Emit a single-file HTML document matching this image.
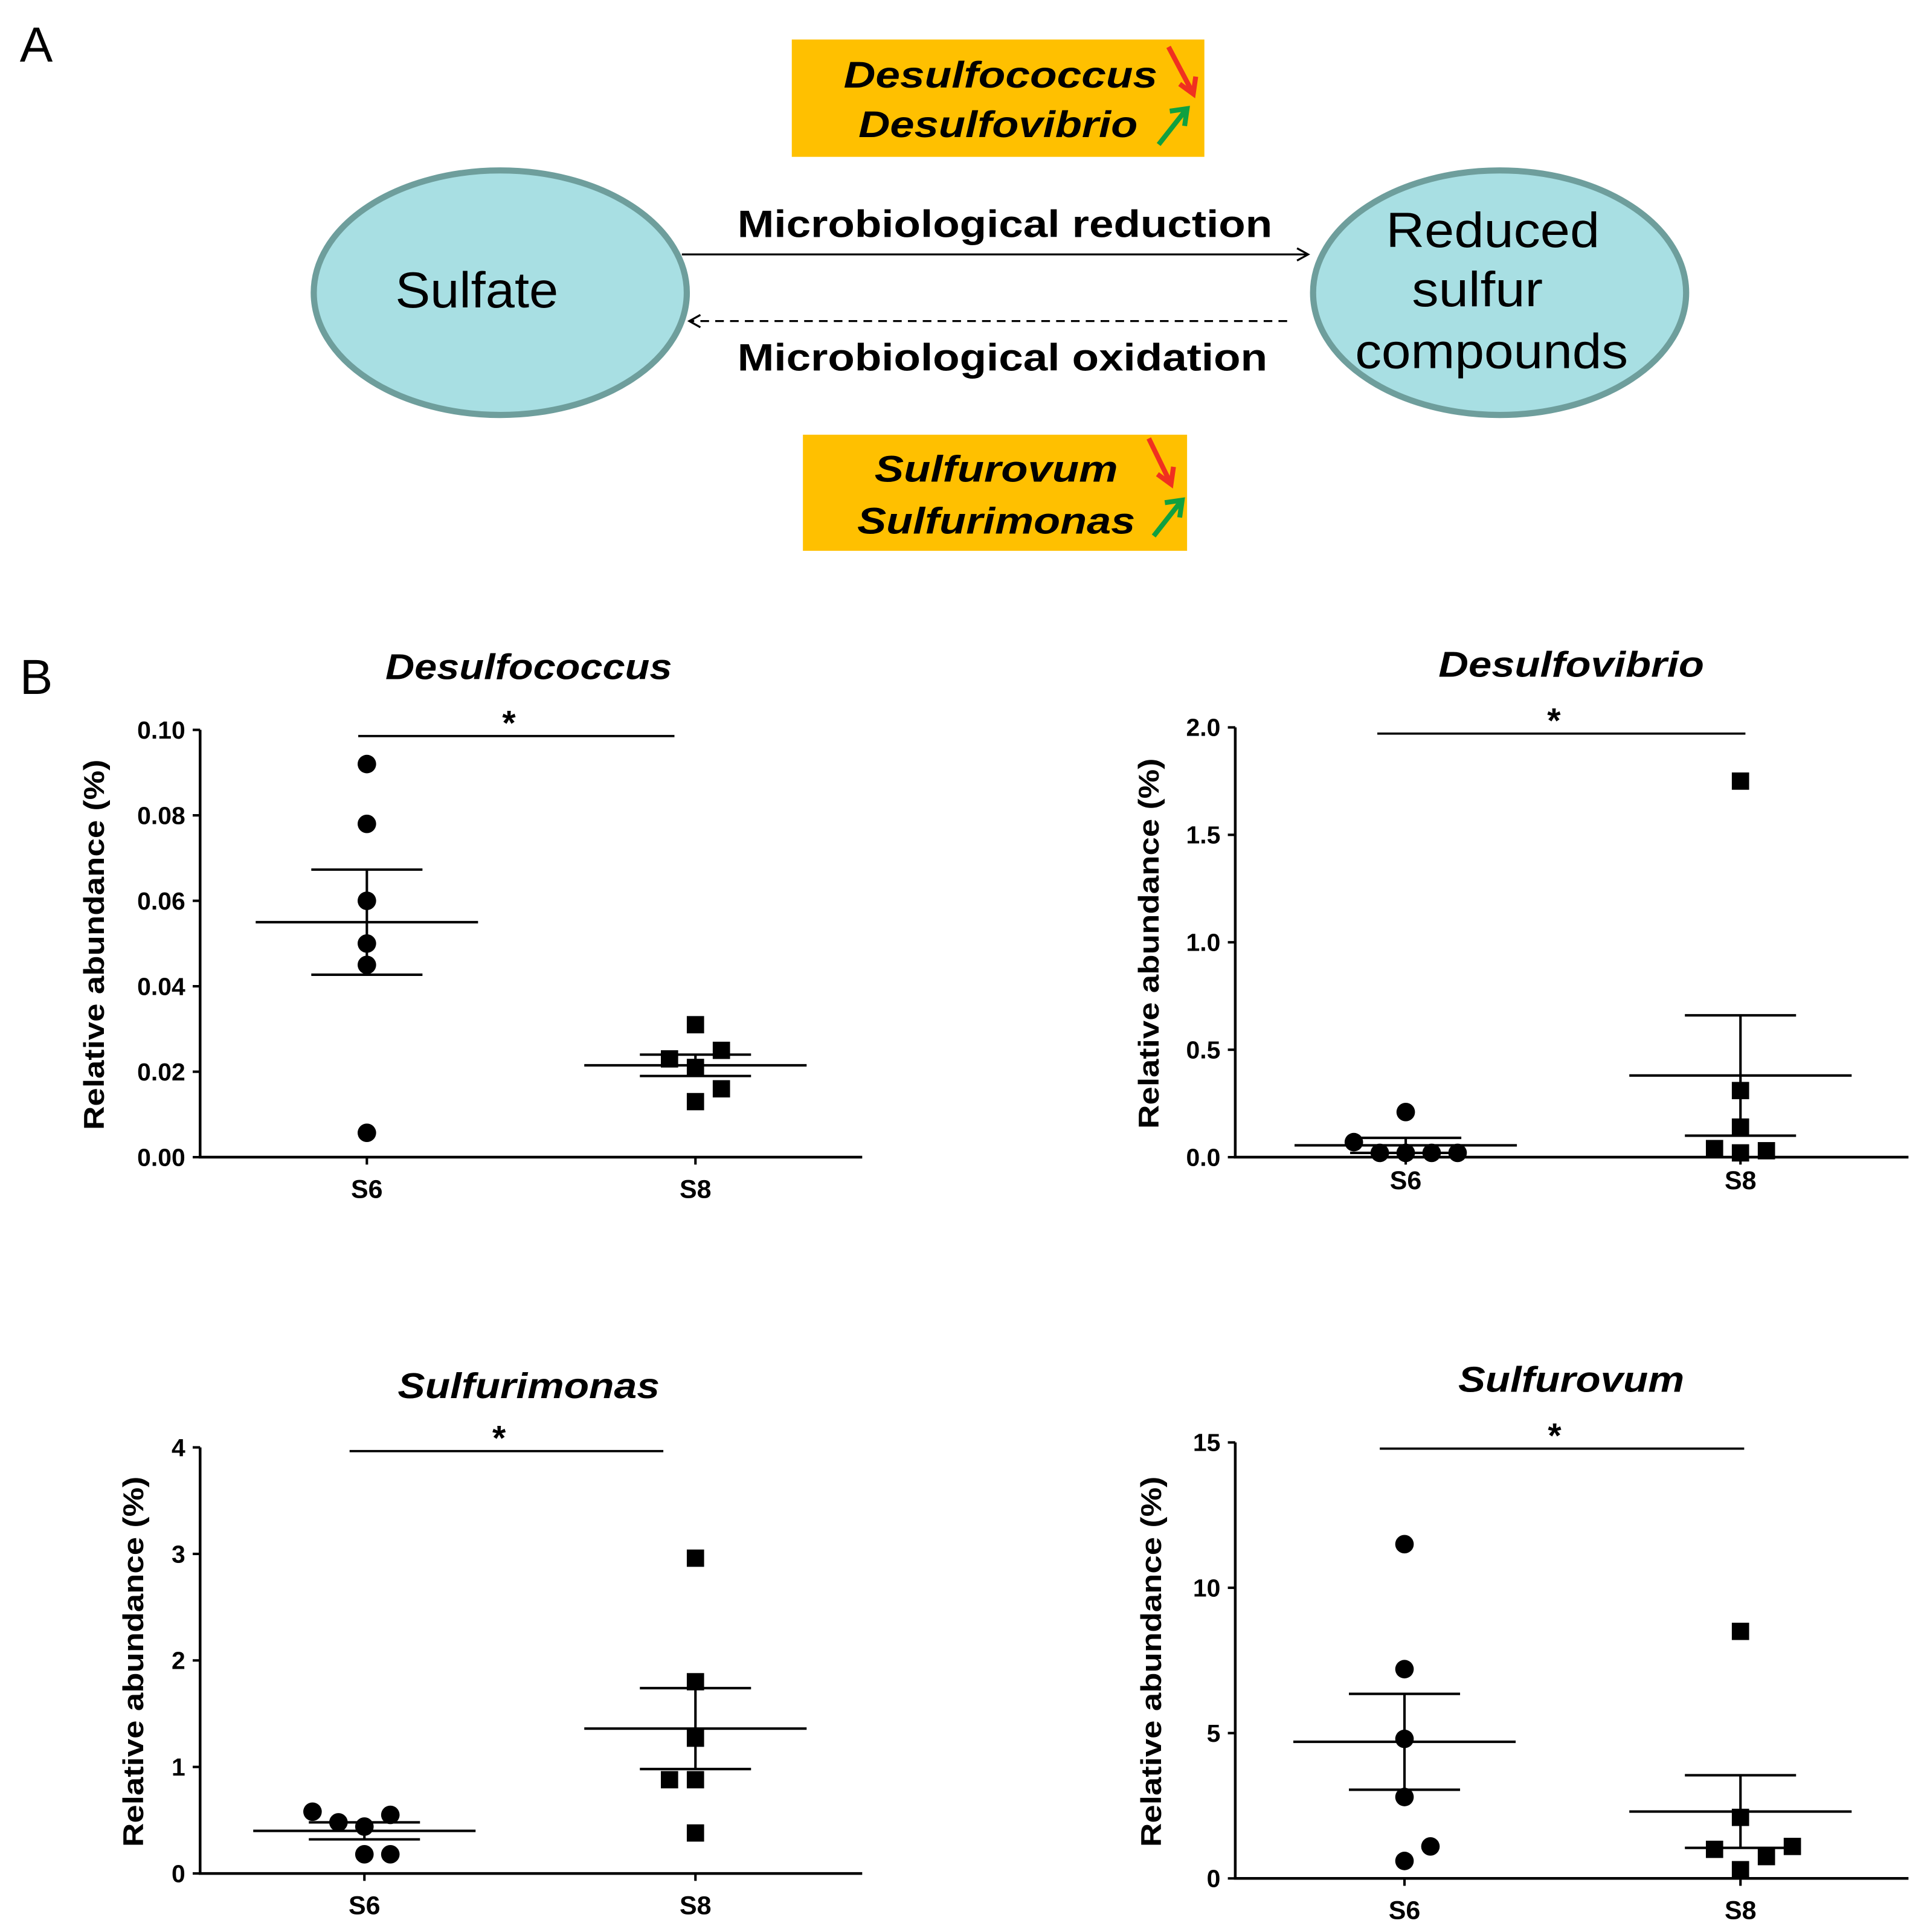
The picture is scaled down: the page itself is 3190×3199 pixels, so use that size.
<!DOCTYPE html>
<html><head><meta charset="utf-8"><style>
html,body{margin:0;padding:0;background:#fff}
svg{display:block}
text{font-family:"Liberation Sans",Arial,sans-serif}
</style></head><body>
<svg id="fig" width="3190" height="3199" viewBox="0 0 1560 1564.4" xmlns="http://www.w3.org/2000/svg">
<defs>
<marker id="ah" markerWidth="12" markerHeight="12" refX="10" refY="6" orient="auto" markerUnits="userSpaceOnUse"><path d="M1,1 L10,6 L1,11" fill="none" stroke="#000" stroke-width="1.6"/></marker>
</defs>
<g>
<text x="16" y="50" font-size="40">A</text>
<rect x="641" y="32" width="334" height="95" fill="#FFC000"/>
<text x="683" y="71" font-size="30" font-weight="bold" font-style="italic" textLength="254" lengthAdjust="spacingAndGlyphs">Desulfococcus</text>
<text x="695" y="111" font-size="30" font-weight="bold" font-style="italic" textLength="226" lengthAdjust="spacingAndGlyphs">Desulfovibrio</text>
<g stroke="#F03020" stroke-width="4" fill="none"><path d="M946,38 L965,74"/><path d="M955,68 L966,76 L968,62"/></g>
<g stroke="#10A040" stroke-width="4" fill="none"><path d="M938,117 L960,89"/><path d="M947,90 L961,88 L959,102"/></g>
<ellipse cx="405" cy="237" rx="151" ry="99" fill="#A8DFE3" stroke="#6E9E9C" stroke-width="5"/>
<text x="320" y="249" font-size="41" textLength="132" lengthAdjust="spacingAndGlyphs">Sulfate</text>
<ellipse cx="1214" cy="237" rx="151" ry="99" fill="#A8DFE3" stroke="#6E9E9C" stroke-width="5"/>
<text font-size="40"><tspan x="1122" y="200" textLength="173" lengthAdjust="spacingAndGlyphs">Reduced</tspan><tspan x="1143" y="248" textLength="106" lengthAdjust="spacingAndGlyphs">sulfur</tspan><tspan x="1097" y="298" textLength="221" lengthAdjust="spacingAndGlyphs">compounds</tspan></text>
<line x1="552" y1="206" x2="1059" y2="206" stroke="#000" stroke-width="1.6" marker-end="url(#ah)"/>
<text x="597" y="192" font-size="31" font-weight="bold" textLength="433" lengthAdjust="spacingAndGlyphs">Microbiological reduction</text>
<line x1="1042" y1="260" x2="558" y2="260" stroke="#000" stroke-width="1.6" stroke-dasharray="7,5" marker-end="url(#ah)"/>
<text x="597" y="300" font-size="31" font-weight="bold" textLength="429" lengthAdjust="spacingAndGlyphs">Microbiological oxidation</text>
<rect x="650" y="352" width="311" height="94" fill="#FFC000"/>
<text x="708" y="390" font-size="30" font-weight="bold" font-style="italic" textLength="197" lengthAdjust="spacingAndGlyphs">Sulfurovum</text>
<text x="694" y="432" font-size="30" font-weight="bold" font-style="italic" textLength="225" lengthAdjust="spacingAndGlyphs">Sulfurimonas</text>
<g stroke="#F03020" stroke-width="4" fill="none"><path d="M930,355 L947,390"/><path d="M937,384 L948,392 L950,378"/></g>
<g stroke="#10A040" stroke-width="4" fill="none"><path d="M934,434 L956,406"/><path d="M943,407 L957,405 L955,419"/></g>
</g>
<text x="16" y="562" font-size="40">B</text>
<g id="charts"></g>
</svg>
<script>
// Desulfococcus
const c1Ticks=[0,0.02,0.04,0.06,0.08,0.10];
const c1TickLabels=["0.00","0.02","0.04","0.06","0.08","0.10"];
const c1S6=[0.092,0.078,0.060,0.050,0.045,0.0057];
const c1S6J=[0,0,0,0,0,0];
const c1S8=[0.031,0.025,0.023,0.021,0.016,0.013];
const c1S8J=[0,1,-1,0,1,0];
const c1Mean=[0.055,0.0215];
const c1Sem=[0.0123,0.0025];
// Desulfovibrio
const c2Ticks=[0,0.5,1.0,1.5,2.0];
const c2TickLabels=["0.0","0.5","1.0","1.5","2.0"];
const c2S6=[0.21,0.07,0.02,0.02,0.02,0.02];
const c2S6J=[0,-2,-1,0,1,2];
const c2S8=[1.75,0.31,0.14,0.04,0.02,0.03];
const c2S8J=[0,0,0,-1,0,1];
const c2Mean=[0.055,0.38];
const c2Sem=[0.035,0.28];
// Sulfurimonas
const c3Ticks=[0,1,2,3,4];
const c3TickLabels=["0","1","2","3","4"];
const c3S6=[0.58,0.48,0.44,0.55,0.18,0.18];
const c3S6J=[-2,-1,0,1,0,1];
const c3S8=[2.96,1.8,1.27,0.88,0.88,0.38];
const c3S8J=[0,0,0,-1,0,0];
const c3Mean=[0.40,1.36];
const c3Sem=[0.08,0.38];
// Sulfurovum
const c4Ticks=[0,5,10,15];
const c4TickLabels=["0","5","10","15"];
const c4S6=[11.5,7.2,4.8,2.8,0.6,1.1];
const c4S6J=[0,0,0,0,0,1];
const c4S8=[8.5,2.1,1.0,0.75,1.1,0.3];
const c4S8J=[0,0,-1,1,2,0];
const c4Mean=[4.7,2.3];
const c4Sem=[1.65,1.25];
const cats=["S6","S8"];

const NS="http://www.w3.org/2000/svg";
const root=document.getElementById('charts');
function mk(tag,attrs,parent){const e=document.createElementNS(NS,tag);for(const k in attrs)e.setAttribute(k,attrs[k]);parent.appendChild(e);return e;}

function chart(cfg){
  const g=mk('g',{},root);
  
  
  const ymax=cfg.ticks[cfg.ticks.length-1];
  const y=v=>cfg.y0-(v/ymax)*(cfg.y0-cfg.y1);
  const xc=[cfg.xs6,cfg.xs8];
  const t=mk('text',{x:cfg.tx-cfg.tw/2,y:cfg.ty,'font-size':29,'font-weight':'bold','font-style':'italic',textLength:cfg.tw,lengthAdjust:'spacingAndGlyphs'},g);
  t.textContent=cfg.title;
  
  
  const ax=mk('path',{d:`M${cfg.ax},${cfg.y1} L${cfg.ax},${cfg.y0} L${cfg.axEnd},${cfg.y0}`,stroke:'#000','stroke-width':2.2,fill:'none'},g);
  
  
  cfg.ticks.forEach((v,i)=>{
    mk('line',{x1:cfg.ax-6,x2:cfg.ax,y1:y(v),y2:y(v),stroke:'#000','stroke-width':2},g);
    const l=mk('text',{x:cfg.ax-12,y:y(v)+7,'font-size':20,'font-weight':'bold','text-anchor':'end'},g);
    l.textContent=cfg.tickLabels[i];
    
    
  });
  const yt=mk('text',{transform:`translate(${cfg.ax-cfg.yto},${(cfg.y0+cfg.y1)/2+1}) rotate(-90)`,x:-150,'font-size':23,'font-weight':'bold',textLength:300,lengthAdjust:'spacingAndGlyphs'},g);
  yt.textContent='Relative abundance (%)';
  
  
  cats.forEach((c,i)=>{
    mk('line',{x1:xc[i],x2:xc[i],y1:cfg.y0,y2:cfg.y0+6,stroke:'#000','stroke-width':2},g);
    const l=mk('text',{x:xc[i],y:cfg.catY,'font-size':21,'font-weight':'bold','text-anchor':'middle'},g);
    l.textContent=c;
    
    
  });
  const sig=mk('line',{x1:cfg.sig[0],x2:cfg.sig[1],y1:cfg.sigY,y2:cfg.sigY,stroke:'#000','stroke-width':1.8},g);
  
  
  const st=mk('text',{x:(cfg.sig[0]+cfg.sig[1])/2-6,y:cfg.sigY-1,'font-size':28,'font-weight':'bold','text-anchor':'middle'},g);
  st.textContent='*';
  
  
  [cfg.s6,cfg.s8].forEach((arr,gi)=>{
    const jit=gi===0?cfg.j6:cfg.j8;
    arr.forEach((v,k)=>{
      const px=xc[gi]+jit[k]*21, py=y(v);
      let m;
      if(gi===0){m=mk('circle',{cx:px,cy:py,r:7.5,fill:'#000'},g);}
      else{m=mk('rect',{x:px-7,y:py-7,width:14,height:14,fill:'#000'},g);}
      
    });
    const mv=cfg.mean[gi], se=cfg.sem[gi];
    const mean=mk('line',{x1:xc[gi]-90,x2:xc[gi]+90,y1:y(mv),y2:y(mv),stroke:'#000','stroke-width':2},g);
    
    
    const eb=mk('path',{d:`M${xc[gi]},${y(mv-se)} L${xc[gi]},${y(mv+se)} M${xc[gi]-45},${y(mv-se)} L${xc[gi]+45},${y(mv-se)} M${xc[gi]-45},${y(mv+se)} L${xc[gi]+45},${y(mv+se)}`,stroke:'#000','stroke-width':2,fill:'none'},g);
    
    
  });
}
chart({name:'desulfococcus-chart',title:'Desulfococcus',tx:428,tw:232,ty:550,ax:162,axEnd:698,yto:78,y0:937,y1:591,xs6:297,xs8:563,catY:970,sig:[290,546],sigY:596,ticks:c1Ticks,tickLabels:c1TickLabels,s6:c1S6,j6:c1S6J,s8:c1S8,j8:c1S8J,mean:c1Mean,sem:c1Sem});
chart({name:'desulfovibrio-chart',title:'Desulfovibrio',tx:1272,tw:215,ty:548,ax:1000,axEnd:1545,yto:62,y0:937,y1:589,xs6:1138,xs8:1409,catY:963,sig:[1115,1413],sigY:594,ticks:c2Ticks,tickLabels:c2TickLabels,s6:c2S6,j6:c2S6J,s8:c2S8,j8:c2S8J,mean:c2Mean,sem:c2Sem});
chart({name:'sulfurimonas-chart',title:'Sulfurimonas',tx:428,tw:212,ty:1132,ax:162,axEnd:698,yto:46,y0:1517,y1:1172,xs6:295,xs8:563,catY:1550,sig:[283,537],sigY:1175,ticks:c3Ticks,tickLabels:c3TickLabels,s6:c3S6,j6:c3S6J,s8:c3S8,j8:c3S8J,mean:c3Mean,sem:c3Sem});
chart({name:'sulfurovum-chart',title:'Sulfurovum',tx:1272,tw:183,ty:1127,ax:1000,axEnd:1545,yto:60,y0:1521,y1:1168,xs6:1137,xs8:1409,catY:1554,sig:[1117,1412],sigY:1173,ticks:c4Ticks,tickLabels:c4TickLabels,s6:c4S6,j6:c4S6J,s8:c4S8,j8:c4S8J,mean:c4Mean,sem:c4Sem});
</script>
</body></html>
